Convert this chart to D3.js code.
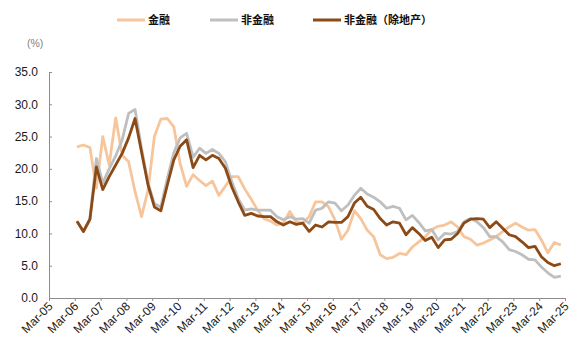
<!DOCTYPE html>
<html><head><meta charset="utf-8">
<script src="https://cdn.jsdelivr.net/npm/d3@7"></script>
<style>
html,body{margin:0;padding:0;background:#fff;}
svg{display:block;}
</style>
</head><body>
<svg id="chart" width="583" height="354"></svg>
<script>
const seriesNames = ["金融", "非金融", "非金融（除地产）"];
const seriesColors = ["#F7C59B", "#BFBFBF", "#8C4A16"];
const tickLabels = ["Mar-05","Mar-06","Mar-07","Mar-08","Mar-09","Mar-10","Mar-11","Mar-12","Mar-13","Mar-14","Mar-15","Mar-16","Mar-17","Mar-18","Mar-19","Mar-20","Mar-21","Mar-22","Mar-23","Mar-24","Mar-25"];
const yTicks = [0,5,10,15,20,25,30,35];
const firstQuarter = "2006-03";
const lastQuarter = "2025-03";

const financial = [23.4,23.7,23.3,17.0,25.0,20.6,27.9,22.1,21.1,16.5,12.6,16.7,25.0,27.7,27.8,26.5,20.8,17.3,19.1,18.2,
  17.4,18.1,15.9,17.3,18.8,18.8,16.9,15.3,13.6,12.3,11.9,11.3,11.6,13.4,11.8,11.6,12.6,14.9,14.9,14.1,
  12.1,9.1,10.5,13.5,12.3,10.5,9.5,6.7,6.1,6.3,6.9,6.7,7.9,8.7,9.5,10.6,11.1,11.3,11.8,11.0,
  9.5,9.1,8.2,8.5,9.0,9.5,10.3,11.0,11.6,11.0,10.5,10.6,9.0,7.0,8.6,8.2,8.2];
const nonFinancial = [11.9,10.3,12.2,21.6,17.8,20.0,22.0,24.5,28.6,29.2,23.2,17.8,14.6,14.1,18.5,22.5,24.8,25.5,21.8,23.2,
  22.4,23.0,22.4,21.1,18.0,15.4,13.6,13.8,13.6,13.6,13.6,12.6,12.1,12.6,12.2,12.3,11.6,13.6,13.9,14.9,
  14.7,13.5,14.4,15.9,17.0,16.1,15.6,14.9,13.9,14.2,13.9,12.1,12.8,11.7,10.4,10.6,9.0,10.0,9.9,10.3,
  11.8,12.3,11.8,10.9,9.5,9.5,8.7,7.5,7.2,6.7,6.0,5.9,4.8,3.9,3.2,3.4,3.8];
const nonFinancialExRE = [11.9,10.3,12.2,20.3,16.8,18.8,20.6,22.4,24.8,27.8,22.6,17.5,14.1,13.5,17.5,21.4,23.5,24.5,20.2,22.1,
  21.4,22.1,21.6,20.1,17.2,14.9,12.8,13.1,12.7,12.6,12.6,11.8,11.3,11.8,11.4,11.6,10.3,11.3,11.0,11.8,
  11.7,11.7,12.6,14.7,15.6,14.2,13.7,12.3,11.3,11.8,11.6,9.8,10.9,10.0,8.9,9.4,7.8,9.0,9.1,10.0,
  11.6,12.2,12.3,12.2,10.9,11.8,10.8,9.8,9.5,8.7,7.8,8.0,6.4,5.5,5.0,5.3,5.6];

const parseYM = d3.timeParse("%Y-%m");
const quarters = d3.timeMonth.every(3).range(parseYM(firstQuarter), d3.timeMonth.offset(parseYM(lastQuarter), 1));
const parseTick = d3.timeParse("%b-%y");
const tickDates = tickLabels.map(parseTick);

const svg = d3.select("#chart");
const x = d3.scaleTime().domain([tickDates[0], tickDates[tickDates.length-1]]).range([49, 565]);
const y = d3.scaleLinear().domain([0, 35]).range([298, 72]);

const font = "'Liberation Sans', Arial, sans-serif";

// y axis
const yAxis = svg.append("g").attr("transform", "translate(49,0)")
  .call(d3.axisLeft(y).tickValues(yTicks).tickFormat(d3.format(".1f")).tickSizeInner(-3).tickSizeOuter(0).tickPadding(11));
yAxis.select(".domain").attr("stroke", "#8c8c8c");
yAxis.selectAll(".tick line").attr("stroke", "#8c8c8c");
yAxis.selectAll("text").attr("font-family", font).attr("font-size", 12).attr("fill", "#1a1a1a");

// x axis
const xAxis = svg.append("g").attr("transform", "translate(0,298)")
  .call(d3.axisBottom(x).tickValues(tickDates).tickFormat((d,i) => tickLabels[i]).tickSizeInner(3).tickSizeOuter(0));
xAxis.select(".domain").attr("stroke", "#8c8c8c");
xAxis.selectAll(".tick line").attr("stroke", "#8c8c8c");
xAxis.selectAll("text").attr("font-family", font).attr("font-size", 12).attr("fill", "#1a1a1a")
  .attr("text-anchor", "end").attr("x", 0).attr("y", 0).attr("dy", 0)
  .attr("transform", "translate(4,9) rotate(-45)");

// unit
svg.append("text").attr("x", 27).attr("y", 47).attr("font-family", font).attr("font-size", 10.5)
  .attr("fill", "#7f7f7f").text("(%)");

// lines
const allSeries = [financial, nonFinancial, nonFinancialExRE];
const line = d3.line().x((d,i) => x(quarters[i])).y(d => y(d));
allSeries.forEach((s, k) => {
  svg.append("path").datum(s).attr("fill", "none").attr("stroke", seriesColors[k])
    .attr("stroke-width", 2.8).attr("stroke-linejoin", "round").attr("d", line);
});

// legend
const legendX = [117, 210, 313];
seriesNames.forEach((n, k) => {
  const g = svg.append("g").attr("transform", `translate(${legendX[k]},20)`);
  g.append("line").attr("x1", 0).attr("x2", 28).attr("y1", 0).attr("y2", 0)
    .attr("stroke", seriesColors[k]).attr("stroke-width", 3);
  g.append("text").attr("x", 31).attr("y", 4).attr("font-family", "'Noto Sans CJK SC', sans-serif")
    .attr("font-size", 11).attr("font-weight", "bold").attr("fill", "#111").text(n);
});
</script>
</body></html>
